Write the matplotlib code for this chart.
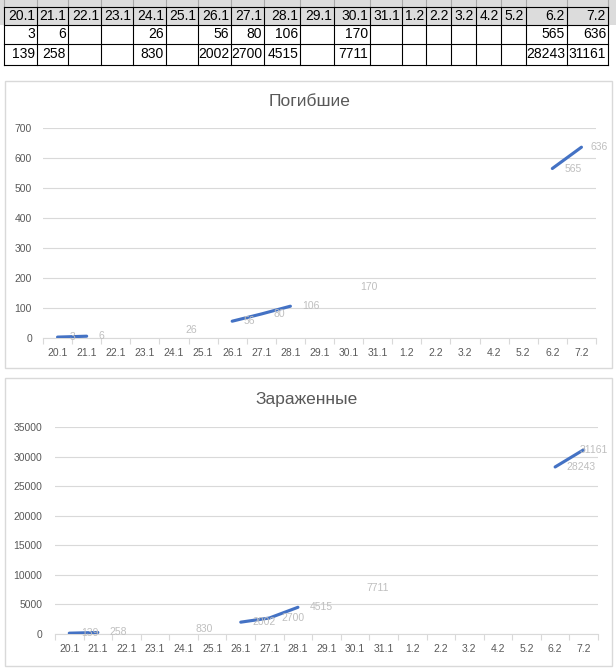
import numpy as np
import matplotlib
matplotlib.use("Agg")
import matplotlib.pyplot as plt
from matplotlib.lines import Line2D
from matplotlib.patches import Rectangle
from matplotlib.ticker import FixedLocator

dates = ["20.1", "21.1", "22.1", "23.1", "24.1", "25.1", "26.1", "27.1", "28.1", "29.1",
         "30.1", "31.1", "1.2", "2.2", "3.2", "4.2", "5.2", "6.2", "7.2"]
deaths = [3, 6, None, None, 26, None, 56, 80, 106, None, 170, None, None, None, None, None, None, 565, 636]
infected = [139, 258, None, None, 830, None, 2002, 2700, 4515, None, 7711, None, None, None, None, None, None, 28243, 31161]
title_deaths = "Погибшие"
title_infected = "Зараженные"

W, H = 616, 670
plt.rcParams['font.family'] = ['Liberation Sans', 'DejaVu Sans']
fig = plt.figure(figsize=(W / 100, H / 100), dpi=100)

def fx(x):
    return x / W

def fy(y):
    return 1 - y / H

# ---------------- table ----------------
col_edges = [4, 37, 68, 101, 133, 166, 198, 231, 264, 300, 334, 370, 402, 426, 451, 476, 501, 526, 567, 608]
row_edges = [7, 25, 44, 65]

fig.patches.append(Rectangle((fx(0), fy(25)), fx(W), 25 / H, transform=fig.transFigure,
                             facecolor="#DCDCDC", edgecolor="none", zorder=-2))
for x in col_edges:
    fig.add_artist(Line2D([fx(x), fx(x)], [fy(0), fy(7)], color="#A8A8A8", lw=0.8))
    fig.add_artist(Line2D([fx(x), fx(x)], [fy(7), fy(65)], color="black", lw=0.8))
for y in row_edges:
    fig.add_artist(Line2D([fx(col_edges[0]), fx(col_edges[-1])], [fy(y), fy(y)], color="black", lw=0.8))

def fmt(v):
    return "" if v is None else str(v)

rows = [dates, [fmt(v) for v in deaths], [fmt(v) for v in infected]]
for r, row in enumerate(rows):
    yc = (row_edges[r] + row_edges[r + 1]) / 2
    for c, txt in enumerate(row):
        if txt:
            fig.text(fx(col_edges[c + 1] - 2), fy(yc), txt, ha="right", va="center",
                     fontsize=10, color="black")

# ---------------- charts ----------------
GRID = "#D9D9D9"
TXT = "#595959"
LINE = "#4472C4"
LAB = "#BFBFBF"

all_labels = []

def chart(box, plot, data, ymax, ystep, title, title_xy, ypad):
    bx0, by0, bx1, by1 = box
    fig.patches.append(Rectangle((fx(bx0), fy(by1)), (bx1 - bx0) / W, (by1 - by0) / H,
                                 transform=fig.transFigure, facecolor="white",
                                 edgecolor=GRID, lw=1.0, zorder=-1))
    px0, py_top, px1, py_bot = plot
    ax = fig.add_axes([fx(px0), fy(py_bot), (px1 - px0) / W, (py_bot - py_top) / H])
    ax.set_facecolor("none")
    n = len(dates)
    xs = np.arange(n)
    ys = np.array([np.nan if v is None else v for v in data], dtype=float)
    ax.plot(xs, ys, color=LINE, lw=2.25, solid_capstyle="round", zorder=3)
    for x, v in zip(xs, data):
        if v is not None:
            t = ax.annotate(str(v), (x, v), xytext=(8.5, 0), textcoords="offset points",
                            ha="left", va="center", fontsize=7.5, color=LAB, zorder=4,
                            annotation_clip=False)
            all_labels.append((t, bx1))
    ax.set_xlim(-0.5, n - 0.5)
    ax.set_ylim(0, ymax)
    ax.set_yticks(np.arange(0, ymax + 1, ystep))
    ax.yaxis.grid(True, color=GRID, lw=0.8)
    ax.set_axisbelow(True)
    for s in ["top", "right", "left"]:
        ax.spines[s].set_visible(False)
    ax.spines["bottom"].set_color(GRID)
    ax.spines["bottom"].set_linewidth(0.8)
    ax.set_xticks(xs)
    ax.set_xticklabels(dates)
    ax.xaxis.set_minor_locator(FixedLocator(np.arange(-0.5, n, 1.0)))
    ax.tick_params(axis="x", which="major", length=0, pad=7, labelsize=7.5, labelcolor=TXT)
    ax.tick_params(axis="x", which="minor", length=4, width=0.8, color=GRID, direction="out")
    ax.tick_params(axis="y", length=0, pad=ypad, labelsize=7.5, labelcolor=TXT)
    fig.text(fx(title_xy[0]), fy(title_xy[1]), title, ha="center", va="center",
             fontsize=12.5, color=TXT)
    return ax

chart((5, 81, 612, 368), (43, 128, 596, 338), deaths, 700, 100, title_deaths, (310, 102), 8)
chart((5, 378, 612, 666), (55, 427, 598, 634), infected, 35000, 5000, title_infected, (307, 400), 9)

# keep data labels inside the chart area, as the spreadsheet does
fig.canvas.draw()
renderer = fig.canvas.get_renderer()
for t, right in all_labels:
    bb = t.get_window_extent(renderer)
    limit = right - 4
    if bb.x1 > limit:
        shift_px = bb.x1 - limit
        ox, oy = t.xyann
        t.xyann = (ox - shift_px * 72 / 100, oy)

fig.savefig("out.png", dpi=100)
